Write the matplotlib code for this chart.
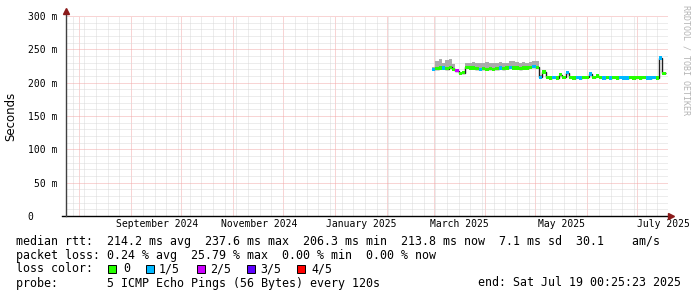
import matplotlib
matplotlib.use("Agg")
import matplotlib.pyplot as plt
import matplotlib.dates as mdates
from matplotlib.patches import Rectangle
import numpy as np
import pandas as pd

# graph window (360 days ending at the "end:" time)
graph_start = "2024-07-24 00:25:23"
graph_end = "2025-07-19 00:25:23"

# data: one value every 2 days starting here
data_start = "2025-02-28 00:25"
median = [220, 221, 222, 222, 221, 223, 220, 218, 214, 215,
          223, 222, 222, 221, 220, 221, 220, 221, 220, 221,
          222, 221, 222, 223, 222, 222, 221, 222, 222, 223,
          224, 223, 208, 216, 208, 207, 208, 207, 212, 208,
          215, 208, 207, 208, 207, 208, 208, 213, 208, 210,
          208, 207, 208, 207, 208, 207, 208, 207, 207, 208,
          207, 208, 207, 208, 207, 207, 208, 207, 237, 214]
smoke_hi = [223, 232, 236, 230, 234, 236, 228, 221, 216, 217,
            229, 230, 231, 229, 230, 229, 231, 230, 229, 230,
            231, 230, 230, 232, 233, 231, 230, 231, 230, 231,
            233, 232, 211, 218, 210, 209, 210, 209, 213, 210,
            216, 210, 209, 210, 209, 210, 210, 214, 210, 211,
            210, 209, 210, 209, 210, 209, 210, 209, 209, 210,
            209, 210, 209, 210, 209, 209, 210, 209, 239, 215]
loss = [1, 0, 0, 1, 0, 0, 0, 2, 0, 0,
        0, 0, 0, 0, 1, 0, 0, 0, 0, 0,
        1, 0, 0, 1, 0, 0, 0, 0, 0, 0,
        1, 0, 1, 0, 0, 0, 1, 0, 0, 0,
        1, 0, 0, 1, 1, 0, 0, 1, 0, 0,
        0, 1, 0, 1, 0, 0, 1, 1, 1, 0,
        0, 0, 0, 0, 1, 1, 1, 0, 1, 0]

loss_labels = ["0", "1/5", "2/5", "3/5", "4/5"]
loss_colors = ["#26ff00", "#00b8ff", "#cc00ff", "#5e00ff", "#ff0000"]

y_ticks = [0, 50, 100, 150, 200, 250, 300]
y_labels = ["0    ", "50 m", "100 m", "150 m", "200 m", "250 m", "300 m"]
label_months = ["2024-09-01", "2024-11-01", "2025-01-01",
                "2025-03-01", "2025-05-01", "2025-07-01"]

legend_lines = [
    "median rtt:  214.2 ms avg  237.6 ms max  206.3 ms min  213.8 ms now  7.1 ms sd  30.1    am/s",
    "packet loss: 0.24 % avg  25.79 % max  0.00 % min  0.00 % now",
    "loss color:",
    "probe:       5 ICMP Echo Pings (56 Bytes) every 120s",
]
end_text = "end: Sat Jul 19 00:25:23 2025"

W, H = 697, 297
MONO = "DejaVu Sans Mono"

fig = plt.figure(figsize=(W / 100, H / 100), dpi=100)
ax = fig.add_axes([66 / W, (H - 216) / H, 601.5 / W, 200 / H])

edges = mdates.date2num(pd.date_range(data_start, periods=len(median) + 1, freq="2D"))
left = edges[:-1]
width = np.diff(edges)
med = np.array(median, dtype=float)
hi = np.array(smoke_hi, dtype=float)

# smoke
ax.stairs(hi, edges, baseline=med - 2, fill=True, color="#aaaaaa", lw=0, zorder=2)
# median line (only visible on the jumps)
ax.stairs(med, edges, baseline=None, color="#202020", lw=1, zorder=3)
# loss coloured band
bh = 2.4
ax.stairs(med + bh, edges, baseline=med - bh, fill=True, color=loss_colors[0], lw=0, zorder=4)
for lv in range(1, len(loss_colors)):
    idx = [i for i, l in enumerate(loss) if l == lv]
    if idx:
        ax.bar(left[idx], 2 * bh, width[idx], bottom=med[idx] - bh, align="edge",
               color=loss_colors[lv], lw=0, zorder=5)

ax.set_xlim(mdates.date2num(pd.Timestamp(graph_start)), mdates.date2num(pd.Timestamp(graph_end)))
ax.set_ylim(0, 300)

# grid: 1px dots, 1px gaps
ax.xaxis.set_major_locator(mdates.MonthLocator())
ax.xaxis.set_minor_locator(mdates.WeekdayLocator(byweekday=mdates.SU))
ax.xaxis.set_major_formatter(plt.NullFormatter())
ax.set_yticks(y_ticks)
ax.set_yticks(range(0, 301, 10), minor=True)
ax.set_yticklabels(y_labels, family=MONO, fontsize=7)
ax.tick_params(which="both", length=0)
ax.tick_params(axis="y", pad=6)
ax.grid(which="minor", color="#dadada", lw=0.72, linestyle=(0, (1, 1)))
ax.grid(which="major", color="#f2aaaa", lw=0.72, linestyle=(0, (1, 1)))
ax.set_axisbelow(True)

for s in ["top", "right", "left", "bottom"]:
    ax.spines[s].set_visible(False)
ax.plot([-0.007, 1.0], [0, 0], color="black", lw=1, transform=ax.transAxes, clip_on=False, zorder=6)
ax.plot([0, 0], [0, 1.025], color="#404040", lw=1, transform=ax.transAxes, clip_on=False, zorder=6)
ax.plot([1.005], [0], marker=">", ms=4, color="#8b1a1a", transform=ax.transAxes, clip_on=False, zorder=7)
ax.plot([0], [1.027], marker="^", ms=4, color="#8b1a1a", transform=ax.transAxes, clip_on=False, zorder=7)

# month labels, centred half a month after the month start
for m in label_months:
    t = pd.Timestamp(m)
    ax.text(mdates.date2num(t + pd.Timedelta(days=15.75)), -0.04, t.strftime("%B %Y"),
            transform=ax.get_xaxis_transform(), ha="center", va="center",
            family=MONO, fontsize=7)

fig.text(10.7 / W, 1 - 116 / H, "Seconds", rotation=90, ha="center", va="center",
         family="DejaVu Sans", fontsize=8.5)
fig.text(686 / W, 1 - 60 / H, "RRDTOOL / TOBI OETIKER", rotation=270, ha="center",
         va="center", family=MONO, fontsize=6, color="#b4b4b4")

# legend
line_y = [241, 255, 269, 283]
for txt, y in zip(legend_lines, line_y):
    fig.text(16 / W, 1 - y / H, txt, ha="left", va="center", family=MONO, fontsize=8.4)
fig.text(478 / W, 1 - 283 / H, end_text, ha="left", va="center", family=MONO, fontsize=8.4)

sw_x = [108, 146, 197, 247, 297]
lab_x = [123, 159, 210, 260, 311]
for sx, lx, c, lab in zip(sw_x, lab_x, loss_colors, loss_labels):
    fig.add_artist(Rectangle((sx / W, 1 - 272.5 / H), 7.5 / W, 7.5 / H,
                             transform=fig.transFigure, facecolor=c,
                             edgecolor="black", lw=0.7))
    fig.text(lx / W, 1 - 269 / H, lab, ha="left", va="center", family=MONO, fontsize=8.4)

fig.savefig("out.png", dpi=100)
